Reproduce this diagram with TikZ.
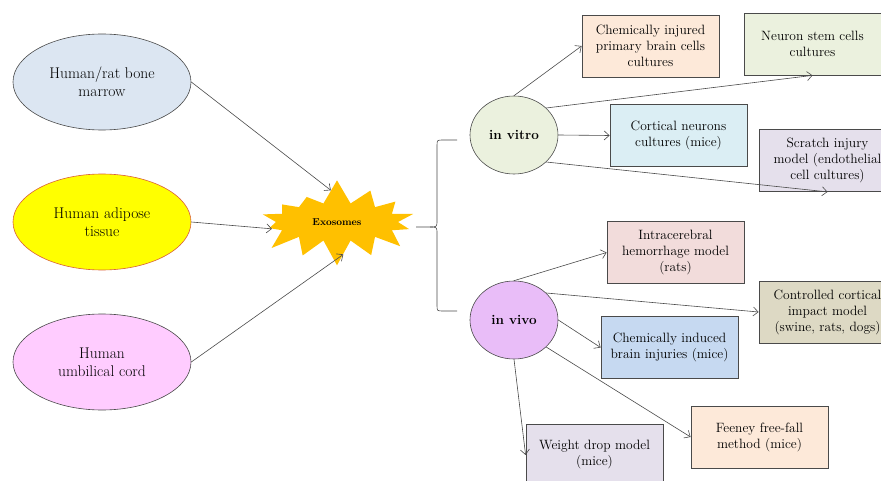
\documentclass[tikz,border=0pt]{standalone}
\usepackage{xcolor}
\usepackage{tikz}
\usetikzlibrary{shapes,shapes.symbols,arrows.meta,positioning}

\definecolor{edgegray}{HTML}{4A4A4A}
\definecolor{marrowfill}{HTML}{DCE6F2}
\definecolor{adiposefill}{HTML}{FFFF00}
\definecolor{adiposeedge}{HTML}{D9603B}
\definecolor{cordfill}{HTML}{FFCCFF}
\definecolor{exofill}{HTML}{FFC000}
\definecolor{vitrofill}{HTML}{EBF1DE}
\definecolor{vivofill}{HTML}{E9BDF8}
\definecolor{peach}{HTML}{FDE9D9}
\definecolor{sage}{HTML}{EBF1DE}
\definecolor{aqua}{HTML}{DBEEF4}
\definecolor{lilac}{HTML}{E5E0EC}
\definecolor{rose}{HTML}{F2DCDB}
\definecolor{khaki}{HTML}{DDD9C4}
\definecolor{steel}{HTML}{C6D9F1}

\begin{document}
\begin{tikzpicture}[->,>={Straight Barb[length=5pt,width=9pt]},
x=1pt,y=-1pt,node distance=140pt,
line width=0.6pt]

\tikzstyle{source}=[ellipse, minimum width=178pt, minimum height=96pt, inner sep=0pt,
draw=edgegray, line width=0.6pt, align=center, text=black, font=\fontsize{15.5}{18}\selectfont]

\tikzstyle{group}=[ellipse, minimum width=88pt, minimum height=78pt, inner sep=0pt,
draw=edgegray, line width=0.6pt, font=\fontsize{13.5}{15}\selectfont\bfseries]

\tikzstyle{model}=[rectangle, minimum width=137pt, minimum height=62pt, inner sep=0pt,
draw=edgegray, line width=0.8pt, align=center, font=\fontsize{13.5}{16}\selectfont]

\useasboundingbox (0,0) rectangle (881,481);

%sources
\node[source,fill=marrowfill]
(marrow) at (102,82)
{Human/rat bone\\marrow};

\node[source,fill=adiposefill,draw=adiposeedge]
(adipose) [below of=marrow]
{Human adipose\\tissue};

\node[source,fill=cordfill]
(cord) [below of=adipose]
{Human\\umbilical cord};

%exosomes
\node[starburst, fill=exofill, draw=none, starburst points=14,
starburst point height=25pt, random starburst=7,
minimum width=172pt, minimum height=88pt, inner sep=0pt,
font=\fontsize{10}{11}\selectfont\bfseries]
(exo) at (337,222)
{Exosomes};

%brace
\draw[-,edgegray] (457,140) -- (443,140) .. controls (437,140) .. (437,146)
-- (437,220) .. controls (437,227) .. (430,227) -- (416,227);
\draw[-,edgegray] (430,227) .. controls (437,227) .. (437,234)
-- (437,305) .. controls (437,311) .. (443,311) -- (457,311);

%groups
\node[group,fill=vitrofill]
(vitro) at (514,135)
{in vitro};

\node[group,fill=vivofill]
(vivo) [below of=vitro, node distance=185pt]
{in vivo};

%in vitro models
\node[model,fill=peach]
(primary) at (650.5,46)
{Chemically injured\\primary brain cells\\cultures};

\node[model,fill=sage]
(stem) at (812.5,44)
{Neuron stem cells\\cultures};

\node[model,fill=aqua]
(cortical) at (678.5,135.5)
{Cortical neurons\\cultures (mice)};

\node[model,fill=lilac]
(scratch) at (827.5,160.5)
{Scratch injury\\model (endothelial\\cell cultures)};

%in vivo models
\node[model,fill=rose]
(hemorrhage) at (675.5,252.5)
{Intracerebral\\hemorrhage model\\(rats)};

\node[model,fill=khaki]
(impact) at (827.5,312)
{Controlled cortical\\impact model\\(swine, rats, dogs)};

\node[model,fill=steel]
(induced) at (669.5,347.5)
{Chemically induced\\brain injuries (mice)};

\node[model,fill=peach]
(feeney) at (759.5,437)
{Feeney free-fall\\method (mice)};

\node[model,fill=lilac]
(weight) at (594.5,455)
{Weight drop model\\(mice)};

\path[->,color=edgegray] (marrow.east) edge (exo.101);
\path[->,color=edgegray] (adipose.east) edge (exo.186);
\path[->,color=edgegray] (cord.east) edge (exo.-79);
\path[->,color=edgegray] (vitro.north) edge (primary.west);
\path[->,color=edgegray] (vitro.40) edge (stem.south);
\path[->,color=edgegray] (vitro.east) edge (cortical.west);
\path[->,color=edgegray] (vitro.-40) edge (scratch.south);
\path[->,color=edgegray] (vivo.north) edge (hemorrhage.west);
\path[->,color=edgegray] (vivo.40) edge (impact.west);
\path[->,color=edgegray] (vivo.east) edge (induced.west);
\path[->,color=edgegray] (vivo.-40) edge (feeney.west);
\path[->,color=edgegray] (vivo.south) edge (weight.west);

\end{tikzpicture}
\end{document}
